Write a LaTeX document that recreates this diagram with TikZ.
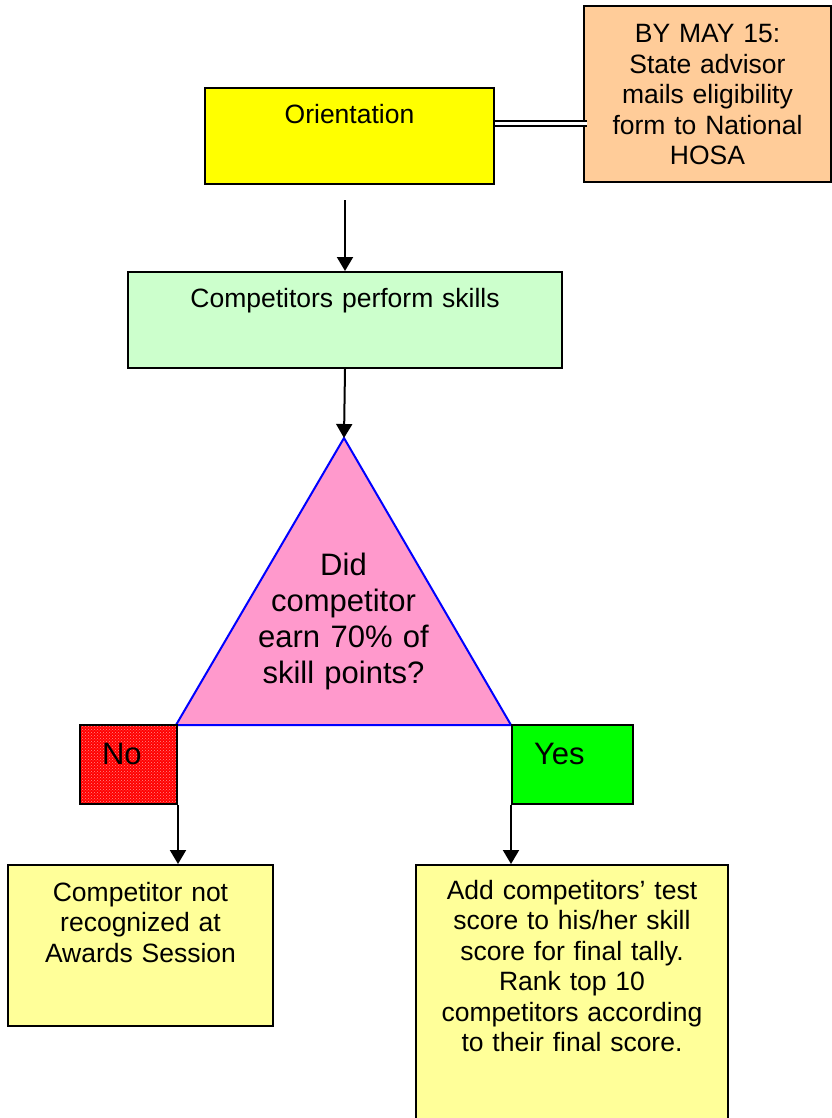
\documentclass[tikz,border=0pt]{standalone}
\usepackage{fontspec}
\setmainfont{Liberation Sans}
\usetikzlibrary{arrows.meta,patterns}
\definecolor{orientyel}{HTML}{FFFF00}
\definecolor{peach}{HTML}{FFCC99}
\definecolor{mint}{HTML}{CCFFCC}
\definecolor{quespink}{HTML}{FF99CC}
\definecolor{nored}{HTML}{FF0000}
\definecolor{yesgreen}{HTML}{00FF00}
\definecolor{paleyel}{HTML}{FFFF99}
\newcommand{\txtsz}{\fontsize{26.5}{30.5}\selectfont}
\newcommand{\bigsz}{\fontsize{31}{36}\selectfont}

\begin{document}
\begin{tikzpicture}[x=1pt, y=-1pt,
  >={Triangle[width=16pt,length=14pt]},
  box/.style={draw, line width=2pt, anchor=north west, align=center,
    inner xsep=0pt, inner ysep=0pt, font=\txtsz},
  flag/.style={draw, line width=2pt, anchor=north west, align=left,
    inner xsep=22pt, inner ysep=0pt, text height=39pt, text depth=40pt,
    font=\bigsz},
  flow/.style={->, line width=2pt}
]
\useasboundingbox (0,0) rectangle (831,1118);
% top row
\node[box, fill=orientyel, text width=289pt, text height=36pt, text depth=60pt]
  (orient) at (204,87) {Orientation};
\node[box, fill=peach, text width=247pt, text height=37pt, text depth=139pt]
  (bymay) at (583,5)
  {BY MAY 15:\\ State advisor\\ mails eligibility\\ form to National\\ HOSA};
\coordinate (dl) at ([yshift=12pt]orient.east);
\draw[line width=2pt, double, double distance=3pt, shorten >=-4pt]
  (dl) -- (dl -| bymay.west);
% skills
\node[box, fill=mint, text width=434pt, text height=35pt, text depth=61pt]
  (comp) at (127,271) {Competitors perform skills};
\draw[flow, shorten <=15pt] (comp.north |- orient.south) -- (comp.north);
% the question
\coordinate (apex) at (344,438);
\coordinate (tl) at (176,725);
\coordinate (tr) at (511,725);
\filldraw[fill=quespink, draw=blue, line width=2pt]
  (apex) -- (tr) -- (tl) -- cycle;
\node[align=center, text width=260pt, inner sep=0pt, font=\bigsz, anchor=base]
  (ques) at (343.5,575) {Did\\ competitor\\ earn 70\% of\\ skill points?};
\draw[flow] (comp.south) -- (apex);
% answers
\node[flag, preaction={fill=nored}, pattern=crosshatch dots,
  pattern color=nored!45!white, text width=53pt] (no) at (79,724) {No};
\node[flag, fill=yesgreen, text width=77pt] (yes) at (511,724) {Yes};
% outcomes
\node[box, fill=paleyel, text width=265pt, text height=36pt, text depth=125pt]
  (notrec) at (7,864) {Competitor not\\ recognized at\\ Awards Session};
\node[box, fill=paleyel, text width=312pt, text height=34pt, text depth=280pt]
  (addbox) at (415,864)
  {Add competitors’ test\\ score to his/her skill\\ score for final tally.\\
   Rank top 10\\ competitors according\\ to their final score.};
\draw[flow] (no.south east) -- (no.south east |- notrec.north);
\draw[flow] (yes.south west) -- (yes.south west |- addbox.north);
\end{tikzpicture}
\end{document}
